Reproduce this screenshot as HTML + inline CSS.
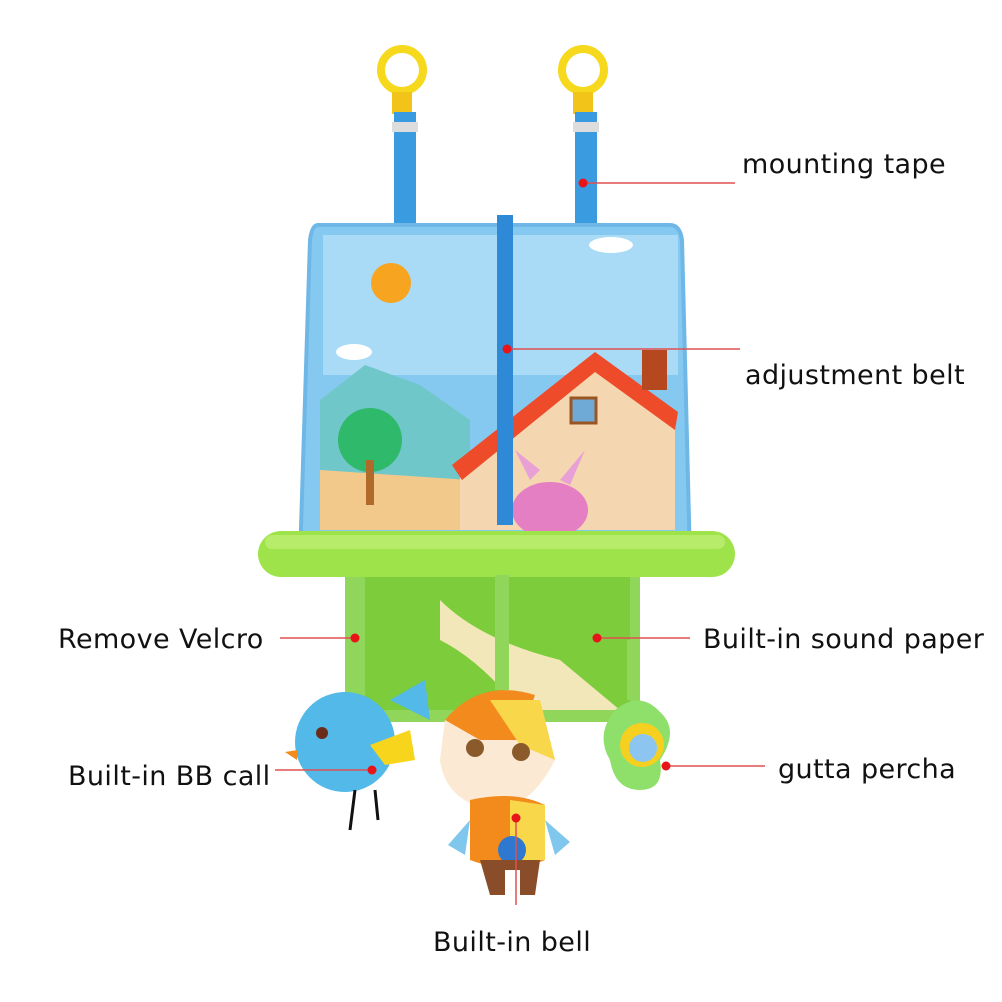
<!DOCTYPE html>
<html><head><meta charset="utf-8"><style>
html,body{margin:0;padding:0;background:#fff}
svg{display:block}
text{font-family:"DejaVu Sans","Liberation Sans",sans-serif;font-size:27px;letter-spacing:0.4px;fill:#111}
</style></head><body>
<svg width="1002" height="1002" viewBox="0 0 1002 1002" xmlns="http://www.w3.org/2000/svg">
<rect width="1002" height="1002" fill="#fff"/>
<circle cx="402" cy="70" r="21" fill="none" stroke="#f6d81c" stroke-width="8"/>
<circle cx="583" cy="70" r="21" fill="none" stroke="#f6d81c" stroke-width="8"/>
<rect x="392" y="92" width="20" height="22" fill="#f2c41a"/>
<rect x="573" y="92" width="20" height="22" fill="#f2c41a"/>
<rect x="394" y="112" width="22" height="120" fill="#3b9be0"/>
<rect x="575" y="112" width="22" height="120" fill="#3b9be0"/>
<rect x="392" y="122" width="26" height="10" fill="#ddd"/>
<rect x="573" y="122" width="26" height="10" fill="#ddd"/>
<path d="M345 560 L640 560 L640 715 Q640 722 632 722 L360 722 Q345 722 345 705 Z" fill="#8fd65a"/>
<rect x="365" y="575" width="265" height="135" fill="#7ccc3c"/>
<path d="M440 600 Q480 640 560 660 L620 710 L520 710 Q480 660 440 640Z" fill="#f2e7b8"/>
<path d="M318 225 Q312 225 310 240 L300 560 L690 560 L682 240 Q680 225 670 225 Z" fill="#86c9f0" stroke="#6fb7e6" stroke-width="4"/>
<rect x="323" y="235" width="355" height="140" fill="#a9dbf6"/>
<circle cx="391" cy="283" r="20" fill="#f7a420"/>
<ellipse cx="354" cy="352" rx="18" ry="8" fill="#fff"/>
<ellipse cx="611" cy="245" rx="22" ry="8" fill="#fff"/>
<path d="M320 400 L365 365 L420 385 L470 420 L470 520 L320 520 Z" fill="#6fc7c9"/>
<path d="M320 470 L470 480 L470 530 L320 530 Z" fill="#f2c98a"/>
<circle cx="370" cy="440" r="32" fill="#2fb96a"/>
<rect x="366" y="460" width="8" height="45" fill="#b06a2a"/>
<path d="M460 460 L595 365 L675 420 L675 530 L460 530 Z" fill="#f4d7b0"/>
<path d="M452 465 L595 352 L678 412 L675 430 L595 372 L462 480 Z" fill="#ee4b2b"/>
<rect x="642" y="350" width="25" height="40" fill="#b5481f"/>
<rect x="571" y="398" width="25" height="25" fill="#6fa9d6" stroke="#9a5522" stroke-width="3"/>
<ellipse cx="550" cy="510" rx="38" ry="28" fill="#e57fc4"/>
<path d="M530 480 L515 450 L540 470Z M560 480 L585 450 L570 485Z" fill="#e9a0d6"/>
<rect x="497" y="215" width="16" height="310" fill="#2e8ad6"/>
<rect x="258" y="531" width="477" height="46" rx="23" fill="#9ee34a"/>
<rect x="265" y="535" width="460" height="14" rx="7" fill="#b7ec6a"/>
<ellipse cx="345" cy="742" rx="50" ry="50" fill="#52b9e8"/>
<path d="M390 700 L425 680 L430 720 Z" fill="#52b9e8"/>
<path d="M370 745 L410 730 L415 760 L385 765Z" fill="#f7d51d"/>
<circle cx="322" cy="733" r="6" fill="#6b2d1a"/>
<path d="M298 750 L285 752 L297 760Z" fill="#f28a1c"/>
<path d="M355 790 L350 830 M375 790 L378 820" stroke="#111" stroke-width="3"/>
<rect x="495" y="575" width="14" height="115" fill="#8fd65a"/>
<path d="M445 720 Q485 680 540 700 L555 760 Q530 810 490 810 Q445 800 440 760Z" fill="#fbe9d4"/>
<path d="M445 720 Q480 678 535 695 L520 740 L480 740Z" fill="#f38a1d"/>
<path d="M490 700 L540 700 L555 760 L520 745Z" fill="#f8d84a"/>
<circle cx="475" cy="748" r="9" fill="#8a5a2a"/><circle cx="521" cy="752" r="9" fill="#8a5a2a"/>
<path d="M470 800 Q515 790 545 805 L545 860 Q510 875 470 860Z" fill="#f28a1c"/>
<path d="M510 800 L545 805 L545 860 L510 860Z" fill="#f8d84a"/>
<circle cx="512" cy="850" r="14" fill="#2f78cf"/>
<path d="M470 820 L448 845 L465 855Z M545 820 L570 842 L555 855Z" fill="#7fc7ec"/>
<path d="M480 860 L490 895 L505 895 L505 870 L520 870 L520 895 L535 895 L540 860Z" fill="#8a4d2a"/>
<rect x="627" y="640" width="8" height="60" fill="#8fd65a"/>
<path d="M615 710 Q640 690 660 712 Q680 730 660 760 Q665 790 640 790 Q615 790 610 760 Q595 735 615 710Z" fill="#8fe06a"/>
<circle cx="642" cy="745" r="22" fill="#f6d020"/>
<circle cx="643" cy="748" r="14" fill="#8cc6f0"/>
<g stroke="#e05050" stroke-width="1.5">
<line x1="583" y1="183" x2="735" y2="183"/>
<line x1="507" y1="349" x2="740" y2="349"/>
<line x1="280" y1="638" x2="355" y2="638"/>
<line x1="597" y1="638" x2="690" y2="638"/>
<line x1="275" y1="770" x2="372" y2="770"/>
<line x1="666" y1="766" x2="765" y2="766"/>
<line x1="516" y1="818" x2="516" y2="905"/>
</g>
<g fill="#e8141a">
<circle cx="583" cy="183" r="4.5"/><circle cx="507" cy="349" r="4.5"/>
<circle cx="355" cy="638" r="4.5"/><circle cx="597" cy="638" r="4.5"/>
<circle cx="372" cy="770" r="4.5"/><circle cx="666" cy="766" r="4.5"/>
<circle cx="516" cy="818" r="4.5"/>
</g>
<text x="742" y="173">mounting tape</text>
<text x="745" y="384">adjustment belt</text>
<text x="58" y="648">Remove Velcro</text>
<text x="703" y="648">Built-in sound paper</text>
<text x="68" y="785">Built-in BB call</text>
<text x="778" y="778">gutta percha</text>
<text x="433" y="951">Built-in bell</text>
</svg>
</body></html>
